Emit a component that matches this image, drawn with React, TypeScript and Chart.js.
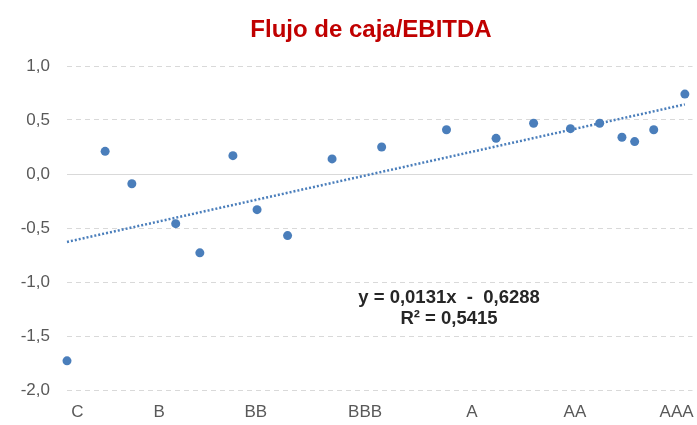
import React, { useEffect, useRef } from "react";
import { Chart, registerables } from "chart.js";

Chart.register(...registerables);

const pointX = [0, 6.0, 10.2, 17.1, 20.9, 26.1, 29.9, 34.7, 41.7, 49.5, 59.7, 67.5, 73.4, 79.2, 83.8, 87.3, 89.3, 92.3, 97.2];
const pointY = [-1.73, 0.21, -0.09, -0.46, -0.73, 0.17, -0.33, -0.57, 0.14, 0.25, 0.41, 0.33, 0.47, 0.42, 0.47, 0.34, 0.3, 0.41, 0.74];

const tickPositions = [1.65, 14.5, 29.7, 46.9, 63.7, 79.9, 95.9];
const tickLabels = ["C", "B", "BB", "BBB", "A", "AA", "AAA"];

const trendSlope = 0.0131;
const trendIntercept = -0.6288;
const trendXRange = [0, 97.2];

const titleText = "Flujo de caja/EBITDA";
const equationText = "y = 0,0131x  -  0,6288";
const r2Text = "R² = 0,5415";

const FONT = "'Liberation Sans', Arial, sans-serif";

export default function App() {
  const ref = useRef<HTMLCanvasElement | null>(null);

  useEffect(() => {
    if (!ref.current) return;
    const textPlugin = {
      id: "texts",
      afterDraw(chart: any) {
        const ctx = chart.ctx;
        const xs = chart.scales.x;
        ctx.save();
        ctx.textAlign = "center";
        ctx.textBaseline = "alphabetic";
        ctx.fillStyle = "#C00000";
        ctx.font = `bold 24px ${FONT}`;
        ctx.fillText(titleText, 371, 37);
        ctx.fillStyle = "#262626";
        ctx.font = `bold 18.5px ${FONT}`;
        const cx = xs.getPixelForValue(60.1);
        ctx.fillText(equationText, cx, 303);
        ctx.fillText(r2Text, cx, 324);
        ctx.restore();
      },
    };

    const chart = new Chart(ref.current, {
      type: "scatter",
      data: {
        datasets: [
          {
            type: "line",
            data: trendXRange.map((x) => ({ x, y: trendSlope * x + trendIntercept })),
            borderColor: "#4A7EBB",
            borderWidth: 2.5,
            borderDash: [2, 2],
            pointRadius: 0,
            fill: false,
          },
          {
            data: pointX.map((x, i) => ({ x, y: pointY[i] })),
            backgroundColor: "#4A7EBB",
            borderColor: "#4A7EBB",
            pointRadius: 4.5,
            borderWidth: 0,
          },
        ],
      },
      options: {
        responsive: false,
        animation: false,
        clip: false,
        layout: { padding: { top: 66, left: 0, right: 0, bottom: 0 } },
        plugins: {
          legend: { display: false },
          tooltip: { enabled: false },
          title: { display: false },
        },
        scales: {
          x: {
            type: "linear",
            min: 0,
            max: 98.4,
            grid: { display: false },
            border: { display: false },
            afterBuildTicks: (scale: any) => {
              scale.ticks = tickPositions.map((v) => ({ value: v }));
            },
            afterFit: (scale: any) => {
              scale.height = 35;
              scale.paddingLeft = 0;
              scale.paddingRight = 0;
            },
            ticks: {
              autoSkip: false,
              maxRotation: 0,
              padding: 4,
              color: "#595959",
              font: { family: FONT, size: 17 },
              callback: (_v: any, i: number) => tickLabels[i],
            },
          },
          y: {
            min: -2,
            max: 1,
            afterFit: (scale: any) => {
              scale.width = 67;
            },
            grid: {
              drawTicks: false,
              color: "#D9D9D9",
              lineWidth: 1,
            },
            border: {
              display: false,
              dash: (ctx: any) => (ctx.tick && ctx.tick.value === 0 ? [] : [5, 4]),
            },
            ticks: {
              stepSize: 0.5,
              padding: 17,
              color: "#595959",
              font: { family: FONT, size: 17 },
              callback: (v: any) => Number(v).toFixed(1).replace(".", ","),
            },
          },
        },
      },
      plugins: [textPlugin],
    } as any);
    return () => chart.destroy();
  }, []);

  return (
    <div style={{ position: "absolute", left: 0, top: 0, width: 697, height: 425, background: "#fff" }}>
      <canvas ref={ref} width={697} height={425} />
    </div>
  );
}
